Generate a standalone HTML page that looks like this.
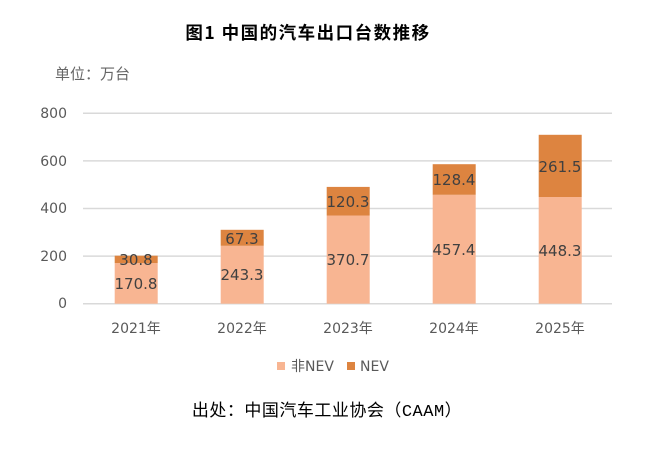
<!DOCTYPE html>
<html><head><meta charset="utf-8"><style>
body{margin:0;background:#fff;width:660px;height:450px;overflow:hidden}
svg{display:block}
text{font-family:"DejaVu Sans","Noto Sans CJK SC",sans-serif}
</style></head><body>
<svg width="660" height="450" xmlns="http://www.w3.org/2000/svg">
<text x="308" y="39" text-anchor="middle" font-size="17.5" font-weight="bold" fill="#000" letter-spacing="1.5" style="font-family:'Noto Sans CJK SC',sans-serif">图1 中国的汽车出口台数推移</text>
<text x="55" y="79" font-size="15" fill="#666" style="font-family:'Noto Sans CJK SC',sans-serif">单位：万台</text>
<g stroke="#d9d9d9" stroke-width="1.5">
<line x1="83" x2="612" y1="113.3" y2="113.3"/>
<line x1="83" x2="612" y1="160.9" y2="160.9"/>
<line x1="83" x2="612" y1="208.5" y2="208.5"/>
<line x1="83" x2="612" y1="256.1" y2="256.1"/>
<line x1="83" x2="612" y1="303.7" y2="303.7"/>
</g>
<g font-size="14" fill="#595959" text-anchor="end">
<text x="67" y="118">800</text><text x="67" y="166">600</text><text x="67" y="213">400</text><text x="67" y="261">200</text><text x="67" y="308">0</text>
</g>
<rect x="114.7" y="263.1" width="43" height="40.6" fill="#F8B592"/>
<rect x="114.7" y="255.7" width="43" height="7.4" fill="#DD8440"/>
<rect x="220.7" y="245.8" width="43" height="57.9" fill="#F8B592"/>
<rect x="220.7" y="229.8" width="43" height="16.0" fill="#DD8440"/>
<rect x="326.7" y="215.5" width="43" height="88.2" fill="#F8B592"/>
<rect x="326.7" y="186.9" width="43" height="28.6" fill="#DD8440"/>
<rect x="432.7" y="194.8" width="43" height="108.9" fill="#F8B592"/>
<rect x="432.7" y="164.2" width="43" height="30.6" fill="#DD8440"/>
<rect x="538.7" y="197.0" width="43" height="106.7" fill="#F8B592"/>
<rect x="538.7" y="134.8" width="43" height="62.2" fill="#DD8440"/>
<g font-size="15" fill="#404040" text-anchor="middle">
<text x="136" y="289">170.8</text><text x="136" y="265">30.8</text>
<text x="242" y="280">243.3</text><text x="242" y="244">67.3</text>
<text x="348" y="265">370.7</text><text x="348" y="207">120.3</text>
<text x="454" y="255">457.4</text><text x="454" y="185">128.4</text>
<text x="560" y="256">448.3</text><text x="560" y="172">261.5</text>
</g>
<g font-size="14" fill="#595959" text-anchor="middle">
<text x="136" y="333">2021年</text><text x="242" y="333">2022年</text><text x="348" y="333">2023年</text><text x="454" y="333">2024年</text><text x="560" y="333">2025年</text>
</g>
<rect x="277" y="362" width="8" height="8" fill="#F8B592"/>
<text x="291" y="371" font-size="14" fill="#595959">非NEV</text>
<rect x="347" y="362" width="8" height="8" fill="#DD8440"/>
<text x="360" y="371" font-size="14" fill="#595959">NEV</text>
<text x="327" y="416" text-anchor="middle" font-size="17" fill="#000" letter-spacing="0.5" style="font-family:'Liberation Mono','Noto Sans CJK SC',monospace">出处：中国汽车工业协会（CAAM）</text>
</svg>
</body></html>
